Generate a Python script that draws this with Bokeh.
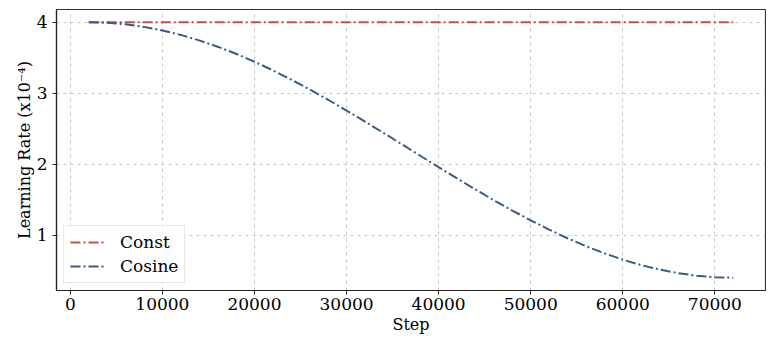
from bokeh.plotting import figure
from bokeh.models import Range1d, FixedTicker, Legend, LegendItem
from bokeh.embed import file_html
from bokeh.resources import INLINE

steps = [2000, 4000, 6000, 8000, 10000, 12000, 14000, 16000, 18000, 20000,
         22000, 24000, 26000, 28000, 30000, 32000, 34000, 36000, 38000, 40000,
         42000, 44000, 46000, 48000, 50000, 52000, 54000, 56000, 58000, 60000,
         62000, 64000, 66000, 68000, 70000, 72000]
cosine_lr = [4.000, 3.993, 3.971, 3.935, 3.885, 3.822, 3.745, 3.656, 3.556, 3.444,
             3.322, 3.191, 3.053, 2.908, 2.756, 2.601, 2.442, 2.281, 2.119, 1.958,
             1.799, 1.644, 1.492, 1.347, 1.209, 1.078, 0.956, 0.844, 0.744, 0.655,
             0.578, 0.515, 0.465, 0.429, 0.407, 0.400]
const_steps = [2000, 72000]
const_lr = [4.0, 4.0]
x_ticks = [0, 10000, 20000, 30000, 40000, 50000, 60000, 70000]
y_ticks = [1, 2, 3, 4]

FONT = "DejaVu Serif"
RED = "#c44e52"
BLUE = "#3b5a85"

p = figure(frame_width=709, frame_height=281, output_backend="svg", toolbar_location=None,
           x_range=Range1d(-1500, 75500), y_range=Range1d(0.22, 4.18),
           min_border_left=56, min_border_top=9, min_border_right=1, min_border_bottom=48)

p.background_fill_color = "white"
p.outline_line_color = "#333333"
p.outline_line_width = 1.2

r1 = p.line(const_steps, const_lr, line_color=RED, line_width=2, line_dash="10 3 2 3")
r2 = p.line(steps, cosine_lr, line_color=BLUE, line_width=2, line_dash="10 3 2 3")

p.xaxis.ticker = FixedTicker(ticks=x_ticks)
p.yaxis.ticker = FixedTicker(ticks=y_ticks)
p.xaxis.axis_label = "Step"
p.yaxis.axis_label = "Learning Rate (x10⁻⁴)"
for ax in (p.xaxis[0], p.yaxis[0]):
    ax.axis_label_text_font = FONT
    ax.axis_label_text_font_size = "16px"
    ax.axis_label_text_font_style = "normal"
    ax.axis_label_text_color = "black"
    ax.major_label_text_font = FONT
    ax.major_label_text_font_size = "17px"
    ax.major_label_text_color = "black"
    ax.axis_line_color = "#222222"
    ax.axis_line_width = 1.2
    ax.major_tick_line_color = "#222222"
    ax.major_tick_out = 4
    ax.major_tick_in = 0
    ax.minor_tick_line_color = None
    ax.major_label_standoff = 3
p.xaxis.axis_label_standoff = 2
p.yaxis.axis_label_standoff = 0
p.yaxis.major_label_standoff = 5

p.grid.grid_line_color = "#c0c0c0"
p.grid.grid_line_dash = "3 4"
p.grid.grid_line_alpha = 0.9

legend = Legend(items=[LegendItem(label="Const", renderers=[r1]),
                       LegendItem(label="Cosine", renderers=[r2])],
                location="bottom_left")
legend.label_text_font = FONT
legend.label_text_font_size = "17px"
legend.label_text_color = "black"
legend.border_line_color = "#d0d0d0"
legend.border_line_width = 1
legend.background_fill_alpha = 0.8
legend.glyph_width = 34
legend.spacing = 4
legend.padding = 6
legend.margin = 7
legend.label_standoff = 16
p.add_layout(legend)

open("out.html", "w").write(file_html(p, INLINE))
